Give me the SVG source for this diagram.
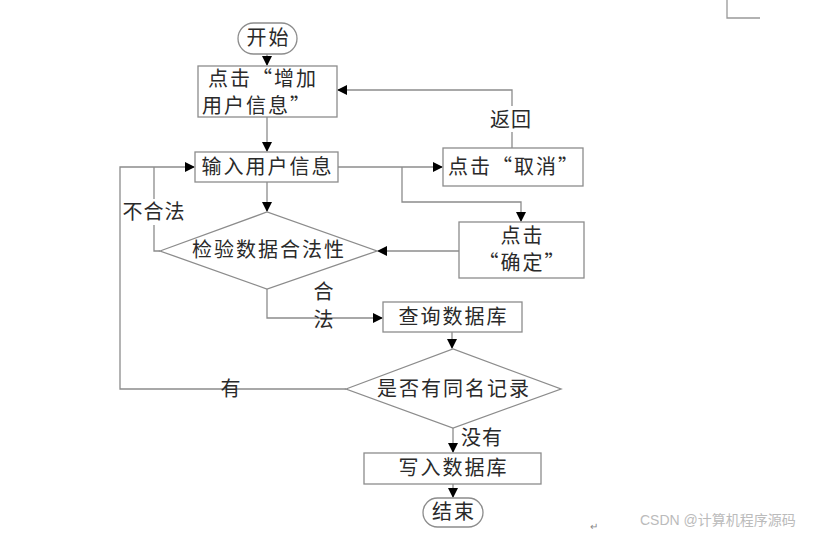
<svg xmlns="http://www.w3.org/2000/svg" width="816" height="535" viewBox="0 0 816 535">
<defs>
<marker id="ah" markerWidth="10" markerHeight="10" refX="9" refY="5" orient="auto" markerUnits="userSpaceOnUse">
<path d="M0,0 L10,5 L0,10 Z" fill="#000"/>
</marker>
<style>
.n{fill:#fff;stroke:#8c8c8c;stroke-width:1.3}
.c{fill:none;stroke:#8c8c8c;stroke-width:1.3}
.t{font-family:"Noto Sans CJK SC","Liberation Serif",serif;font-size:20px;letter-spacing:2px;fill:#2a2a2a;text-anchor:middle}
.l{font-family:"Noto Sans CJK SC","Liberation Serif",serif;font-size:20px;letter-spacing:1px;fill:#2a2a2a;text-anchor:middle}
</style>
</defs>
<rect width="816" height="535" fill="#fff"/>
<path d="M727,0 V18 H760" fill="none" stroke="#999" stroke-width="1.3"/>
<g id="connectors">
<path class="c" d="M267,54 V65" marker-end="url(#ah)"/>
<path class="c" d="M267,117 V151" marker-end="url(#ah)"/>
<path class="c" d="M338,167 H442" marker-end="url(#ah)"/>
<path class="c" d="M512,148 V90 H338" marker-end="url(#ah)"/>
<path class="c" d="M402,167 V202 H521 V221" marker-end="url(#ah)"/>
<path class="c" d="M459,251 H378" marker-end="url(#ah)"/>
<path class="c" d="M267,182 V211" marker-end="url(#ah)"/>
<path class="c" d="M160,251 H154 V167"/>
<path class="c" d="M346,389 H120 V167 H194" marker-end="url(#ah)"/>
<path class="c" d="M267,289 V318 H382" marker-end="url(#ah)"/>
<path class="c" d="M452,332 V348" marker-end="url(#ah)"/>
<path class="c" d="M453,428 V452" marker-end="url(#ah)"/>
<path class="c" d="M453,484 V497" marker-end="url(#ah)"/>
<rect x="488" y="106" width="46" height="26" fill="#fff"/>
<text class="l" x="511" y="127">返回</text>
<rect x="121" y="199" width="64" height="26" fill="#fff"/>
<text class="l" x="154" y="219">不合法</text>
<text class="l" x="324" y="299">合</text>
<text class="l" x="324" y="327">法</text>
<text class="l" x="231" y="396">有</text>
<text class="l" x="482" y="445">没有</text>
</g>
<g id="start"><rect class="n" x="238" y="23" width="59" height="31" rx="15.5"/><text class="t" x="268.5" y="45">开始</text></g>
<g id="click-add"><rect class="n" x="198" y="66" width="139" height="51"/><text class="t" x="263" y="86">点击“增加</text><text class="t" x="257" y="113">用户信息”</text></g>
<g id="input"><rect class="n" x="195" y="152" width="143" height="30"/><text class="t" x="267.5" y="174">输入用户信息</text></g>
<g id="cancel"><rect class="n" x="443" y="148" width="140" height="38"/><text class="t" x="514" y="174">点击“取消”</text></g>
<g id="confirm"><rect class="n" x="459" y="222" width="125" height="56"/><text class="t" x="522.5" y="243">点击</text><text class="t" x="522.5" y="270">“确定”</text></g>
<g id="validate"><path class="n" d="M160,251 L267,212 L377,251 L267,289 Z"/><text class="t" x="269" y="257">检验数据合法性</text></g>
<g id="query"><rect class="n" x="383" y="302" width="139" height="30"/><text class="t" x="453.5" y="324">查询数据库</text></g>
<g id="duplicate"><path class="n" d="M346,389 L453,349 L561,389 L453,428 Z"/><text class="t" x="454" y="396">是否有同名记录</text></g>
<g id="write"><rect class="n" x="364" y="453" width="177" height="31"/><text class="t" x="453.5" y="475">写入数据库</text></g>
<g id="end"><rect class="n" x="423" y="498" width="60" height="29" rx="14.5"/><text class="t" x="454" y="519">结束</text></g>
<text x="590" y="530" font-family="Liberation Sans,sans-serif" font-size="10" fill="#888">↵</text>
<text x="640" y="525" font-family="Liberation Sans,'Noto Sans CJK SC',sans-serif" font-size="14" fill="#bbb">CSDN @计算机程序源码</text>
</svg>
